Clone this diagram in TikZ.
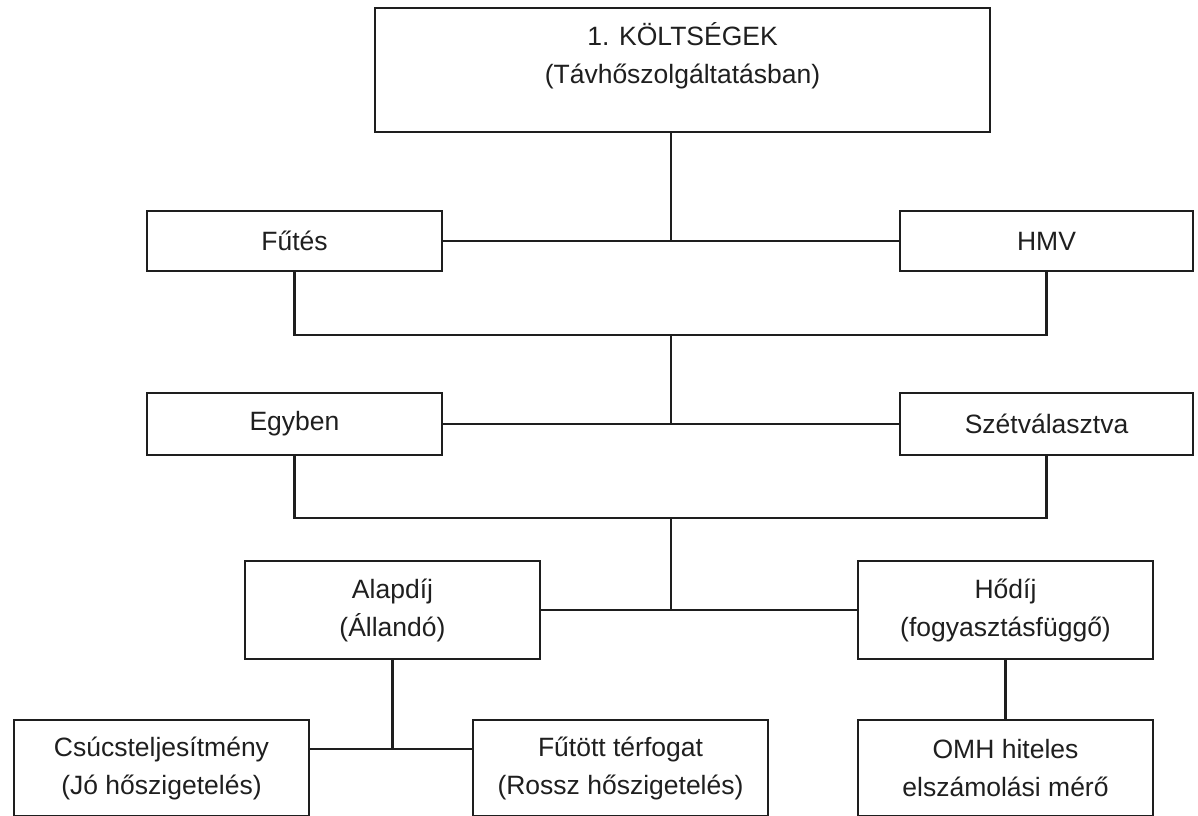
\documentclass[tikz,border=0pt]{standalone}
\usepackage{fontspec}
\setmainfont{Liberation Sans}
\definecolor{ink}{HTML}{1E1E1E}
\definecolor{txt}{HTML}{1F1F1F}
\begin{document}
\begin{tikzpicture}[x=1pt,y=-1pt,
  box/.style={draw=ink, line width=2.8pt, fill=white, text=txt, align=center,
    inner sep=0pt, outer sep=0pt, minimum width=295pt,
    font=\fontsize{26.5}{38}\selectfont},
  conn/.style={draw=ink, line width=2.6pt}]
\useasboundingbox (0,0) rectangle (1198,815);
\clip (0,0) rectangle (1198,815);
\fill[white] (0,0) rectangle (1198,815);

% top box
\node[box, minimum width=615pt, minimum height=124pt, anchor=north west] (top) at (375,8) {};
\node[text=txt, align=center, inner sep=0pt, font=\fontsize{26.5}{38}\selectfont, anchor=north] (toptext) at (682.5,22) {1. KÖLTSÉGEK\\(Távhőszolgáltatásban)};

% level 2
\node[box, minimum height=60pt, anchor=north west] (futes) at (147,211) {Fűtés};
\node[box, minimum width=293pt, minimum height=60pt, anchor=north west] (hmv) at (900,211) {HMV};

% level 3
\node[box, minimum height=62pt, anchor=north west] (egyben) at (147,393) {Egyben};
\node[box, minimum width=293pt, minimum height=62pt, anchor=north west] (szet) at (900,393) {Szétválasztva};

% level 4
\node[box, minimum height=98pt, anchor=north west] (alap) at (245,561) {Alapdíj\\(Állandó)};
\node[box, minimum height=98pt, anchor=north west] (hod) at (858,561) {Hődíj\\(fogyasztásfüggő)};

% level 5
\node[box, minimum height=96pt, anchor=north west] (csucs) at (14,720) {Csúcsteljesítmény\\(Jó hőszigetelés)};
\node[box, minimum height=96pt, anchor=north west] (futott) at (473,720) {Fűtött térfogat\\(Rossz hőszigetelés)};
\node[box, minimum height=96pt, anchor=north west] (omh) at (858,720) {OMH hiteles\\elszámolási mérő};

% junction coordinates
\coordinate (c1) at (671,241);
\coordinate (j1) at (671,335);
\coordinate (c2) at (671,424);
\coordinate (j2) at (671,518);
\coordinate (c3) at (671,610);
\coordinate (h4) at (0,749);
\coordinate (c4) at (alap.south |- h4);

% connectors
\draw[conn] (top.south -| c1) -- (c1);
\draw[conn] (futes.east) -- (hmv.west);
\draw[conn] (futes.south) |- (j1) -| (hmv.south);
\draw[conn] (j1) -- (c2);
\draw[conn] (egyben.east) -- (szet.west);
\draw[conn] (egyben.south) |- (j2) -| (szet.south);
\draw[conn] (j2) -- (c3);
\draw[conn] (alap.east) -- (hod.west);
\draw[conn] (alap.south) -- (c4);
\draw[conn] (csucs.east |- c4) -- (futott.west |- c4);
\draw[conn] (hod.south) -- (omh.north);
\end{tikzpicture}
\end{document}
